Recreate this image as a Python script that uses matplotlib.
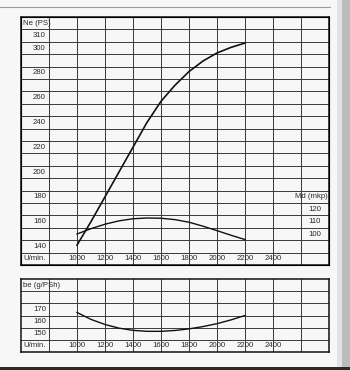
import matplotlib
matplotlib.use("Agg")
import matplotlib.pyplot as plt
from matplotlib.lines import Line2D
from matplotlib.patches import Rectangle

plt.rcParams["font.family"] = ["Liberation Sans", "DejaVu Sans"]

# engine speed (U/min.)
rpm = [1000, 1100, 1200, 1300, 1400, 1500, 1600, 1700, 1800, 1900, 2000, 2100, 2200]
# power Ne (PS)
ne = [141, 160, 180, 200, 220, 240, 257, 270, 281, 289.5, 296, 300.5, 304]
# torque Md (mkp)
md = [100, 104.3, 107.9, 110.6, 112.3, 112.9, 112.7, 111.6, 109.5, 106.3, 102.7, 99, 95.5]
# specific consumption be (g/PSh)
be = [167.5, 161.8, 157.6, 154.6, 152.8, 152, 152, 152.7, 154, 155.9, 158.3, 161.4, 165]

rpm_labels = [1000, 1200, 1400, 1600, 1800, 2000, 2200, 2400]
ne_labels = [310, 300, 280, 260, 240, 220, 200, 180, 160, 140]
md_labels = [120, 110, 100]
be_labels = [170, 160, 150]

bg = "#f7f7f7"
grid_col = "#3a3a3a"
txt = "#2a2a2a"
fs = 5.6

fig = plt.figure(figsize=(3.5, 3.7), dpi=100)
fig.patch.set_facecolor(bg)


def setup(ax, ylo, yhi):
    ax.set_facecolor(bg)
    ax.set_xlim(600, 2800)
    ax.set_ylim(ylo, yhi)
    ax.set_xticks(range(800, 2700, 200))
    ax.set_yticks(range(ylo + 10, yhi, 10))
    ax.tick_params(length=0, labelbottom=False, labelleft=False)
    ax.grid(True, color=grid_col, lw=0.7)
    for s in ax.spines.values():
        s.set_color("#111111")
        s.set_linewidth(1.1)


# top panel: power and torque
ax = fig.add_axes([21 / 350, 1 - 265 / 370, 308 / 350, 248 / 370])
setup(ax, 125, 325)
ax.plot(rpm, ne, color="#111111", lw=1.2)

ax2 = ax.twinx()
ax2.set_ylim(75, 275)
ax2.set_yticks([])
ax2.plot(rpm, md, color="#111111", lw=1.0)

ax.text(612, 320, "Ne (PS)", fontsize=fs, color=txt, ha="left", va="center")
for v in ne_labels:
    ax.text(778, v, str(v), fontsize=fs, color=txt, ha="right", va="center")
ax.text(700, 130, "U/min.", fontsize=fs, color=txt, ha="center", va="center")
for r in rpm_labels:
    ax.text(r, 130, str(r), fontsize=fs, color=txt, ha="center", va="center")
ax2.text(2788, 130, "Md (mkp)", fontsize=fs, color=txt, ha="right", va="center")
for v in md_labels:
    ax2.text(2700, v, str(v), fontsize=fs, color=txt, ha="center", va="center")

# bottom panel: consumption
axb = fig.add_axes([21 / 350, 1 - 352 / 370, 308 / 350, 73 / 370])
setup(axb, 135, 195)
axb.plot(rpm, be, color="#111111", lw=1.0)
axb.text(612, 190, "be (g/PSh)", fontsize=fs, color=txt, ha="left", va="center")
for v in be_labels:
    axb.text(778, v, str(v), fontsize=fs, color=txt, ha="right", va="center")
axb.text(700, 140, "U/min.", fontsize=fs, color=txt, ha="center", va="center")
for r in rpm_labels:
    axb.text(r, 140, str(r), fontsize=fs, color=txt, ha="center", va="center")

# page details of the scan
fig.add_artist(Line2D([0, 330 / 350], [1 - 7 / 370, 1 - 7 / 370], color="#9a9a9a", lw=0.8))
fig.add_artist(Rectangle((337 / 350, 0), 5 / 350, 1, color="#e2e2e2", lw=0))
fig.add_artist(Rectangle((342 / 350, 0), 8 / 350, 1, color="#bcbcbc", lw=0))
fig.add_artist(Rectangle((0, 0), 1, 3 / 370, color="#2a2a2a", lw=0))

fig.savefig("out.png", dpi=100, facecolor=bg)
